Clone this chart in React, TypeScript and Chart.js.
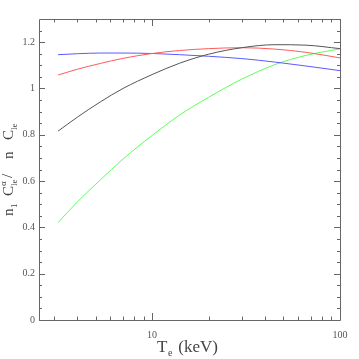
import React, { useEffect, useRef } from "react";
import { Chart, registerables } from "chart.js";

Chart.register(...registerables);

// Electron temperature (keV)
const temperatures = [3.16, 4, 5.3, 7, 10, 14, 20, 30, 45, 66, 100];
// Ratio curves
const blackSeries = [0.816, 0.876, 0.942, 1.0, 1.06, 1.109, 1.148, 1.176, 1.189, 1.187, 1.172];
const redSeries = [1.058, 1.083, 1.108, 1.13, 1.151, 1.164, 1.172, 1.176, 1.17, 1.156, 1.132];
const blueSeries = [1.146, 1.15, 1.153, 1.153, 1.151, 1.146, 1.139, 1.129, 1.114, 1.097, 1.077];
const greenSeries = [0.421, 0.51, 0.605, 0.695, 0.797, 0.885, 0.962, 1.04, 1.103, 1.143, 1.171];

// Tick values
const xLabelTicks = [10, 100];
const xMinorTicks = [3, 4, 5, 6, 7, 8, 9, 20, 30, 40, 50, 60, 70, 80, 90];
const yLabelTicks = [0, 0.2, 0.4, 0.6, 0.8, 1, 1.2];
const yMinorTicks = [0.05, 0.1, 0.15, 0.25, 0.3, 0.35, 0.45, 0.5, 0.55, 0.65, 0.7, 0.75, 0.85, 0.9, 0.95, 1.05, 1.1, 1.15, 1.25];

const X_MIN = 2.5;
const X_MAX = 100;
const Y_MIN = 0;
const Y_MAX = 1.3;

const SERIF = "'Liberation Serif', 'DejaVu Serif', serif";
const AXIS_COLOR = "#666";

const framePlugin = {
  id: "frame",
  afterDraw(chart: any) {
    const { ctx, chartArea: a, scales } = chart;
    const x = scales.x;
    const y = scales.y;
    ctx.save();
    ctx.strokeStyle = AXIS_COLOR;
    ctx.lineWidth = 1;
    ctx.beginPath();
    ctx.rect(Math.round(a.left) + 0.5, Math.round(a.top) + 0.5, Math.round(a.right - a.left), Math.round(a.bottom - a.top));
    ctx.stroke();

    const drawX = (v: number, len: number) => {
      const p = Math.round(x.getPixelForValue(v)) + 0.5;
      ctx.beginPath();
      ctx.moveTo(p, a.bottom);
      ctx.lineTo(p, a.bottom - len);
      ctx.moveTo(p, a.top);
      ctx.lineTo(p, a.top + len);
      ctx.stroke();
    };
    const drawY = (v: number, len: number) => {
      const p = Math.round(y.getPixelForValue(v)) + 0.5;
      ctx.beginPath();
      ctx.moveTo(a.left, p);
      ctx.lineTo(a.left + len, p);
      ctx.moveTo(a.right, p);
      ctx.lineTo(a.right - len, p);
      ctx.stroke();
    };
    xLabelTicks.forEach((v) => drawX(v, 7));
    xMinorTicks.forEach((v) => drawX(v, 3.5));
    yLabelTicks.forEach((v) => drawY(v, 6));
    yMinorTicks.forEach((v) => drawY(v, 3));

    // X axis title: T_e (keV)
    ctx.fillStyle = "#444";
    ctx.textBaseline = "alphabetic";
    ctx.textAlign = "left";
    let cx = 157;
    const by = 352;
    ctx.font = `17px ${SERIF}`;
    ctx.fillText("T", cx, by);
    cx += ctx.measureText("T").width + 0.5;
    ctx.font = `10px ${SERIF}`;
    ctx.fillText("e", cx, by + 4);
    cx += ctx.measureText("e").width + 6;
    ctx.font = `17px ${SERIF}`;
    ctx.fillText("(keV)", cx, by);

    // Y axis title: n_1 C^α_le / n C_le (rotated)
    ctx.save();
    ctx.translate(13, 216);
    ctx.rotate(-Math.PI / 2);
    const big = `15px ${SERIF}`;
    const small = `9px ${SERIF}`;
    const put = (s: string, font: string, at: number, dy: number) => {
      ctx.font = font;
      ctx.fillText(s, at, dy);
    };
    put("n", big, 0, 0);
    put("1", small, 8, 4);
    put("C", big, 20, 0);
    put("\u03b1", small, 30, -7);
    put("le", small, 30, 4);
    put("/", big, 38, -1);
    put("n", big, 57, 0);
    put("C", big, 76, 0);
    put("le", small, 86, 4);
    ctx.restore();

    ctx.restore();
  },
};

function makeDataset(values: number[], color: string) {
  return {
    data: temperatures.map((t, i) => ({ x: t, y: values[i] })),
    borderColor: color,
    borderWidth: 1,
    pointRadius: 0,
    fill: false,
    cubicInterpolationMode: "monotone" as const,
  };
}

export default function App() {
  const canvasRef = useRef<HTMLCanvasElement | null>(null);

  useEffect(() => {
    if (!canvasRef.current) return;
    const chart = new Chart(canvasRef.current, {
      type: "line",
      data: {
        datasets: [
          makeDataset(blackSeries, "#555"),
          makeDataset(redSeries, "#ff5a5a"),
          makeDataset(blueSeries, "#5a5aff"),
          makeDataset(greenSeries, "#5aff5a"),
        ],
      },
      options: {
        animation: false,
        responsive: true,
        maintainAspectRatio: false,
        layout: { padding: { top: 19, right: 19, left: 0, bottom: 0 } },
        plugins: { legend: { display: false }, tooltip: { enabled: false } },
        scales: {
          x: {
            type: "logarithmic",
            min: X_MIN,
            max: X_MAX,
            grid: { display: false, drawTicks: false },
            border: { display: false },
            afterBuildTicks: (scale: any) => {
              scale.ticks = xLabelTicks.map((v) => ({ value: v }));
            },
            afterFit: (scale: any) => {
              scale.height = 39;
            },
            ticks: {
              autoSkip: false,
              maxRotation: 0,
              padding: 9,
              color: "#555",
              font: { family: SERIF, size: 10 },
              callback: (v: any) => String(v),
            },
          },
          y: {
            type: "linear",
            min: Y_MIN,
            max: Y_MAX,
            grid: { display: false, drawTicks: false },
            border: { display: false },
            afterBuildTicks: (scale: any) => {
              scale.ticks = yLabelTicks.map((v) => ({ value: v }));
            },
            afterFit: (scale: any) => {
              scale.width = 39;
            },
            ticks: {
              autoSkip: false,
              padding: 4,
              color: "#555",
              font: { family: SERIF, size: 10 },
              callback: (v: any) => String(v),
            },
          },
        },
      },
      plugins: [framePlugin],
    });
    return () => chart.destroy();
  }, []);

  return (
    <div style={{ position: "fixed", left: 0, top: 0, width: 359, height: 359, background: "#fff" }}>
      <canvas ref={canvasRef} />
    </div>
  );
}
